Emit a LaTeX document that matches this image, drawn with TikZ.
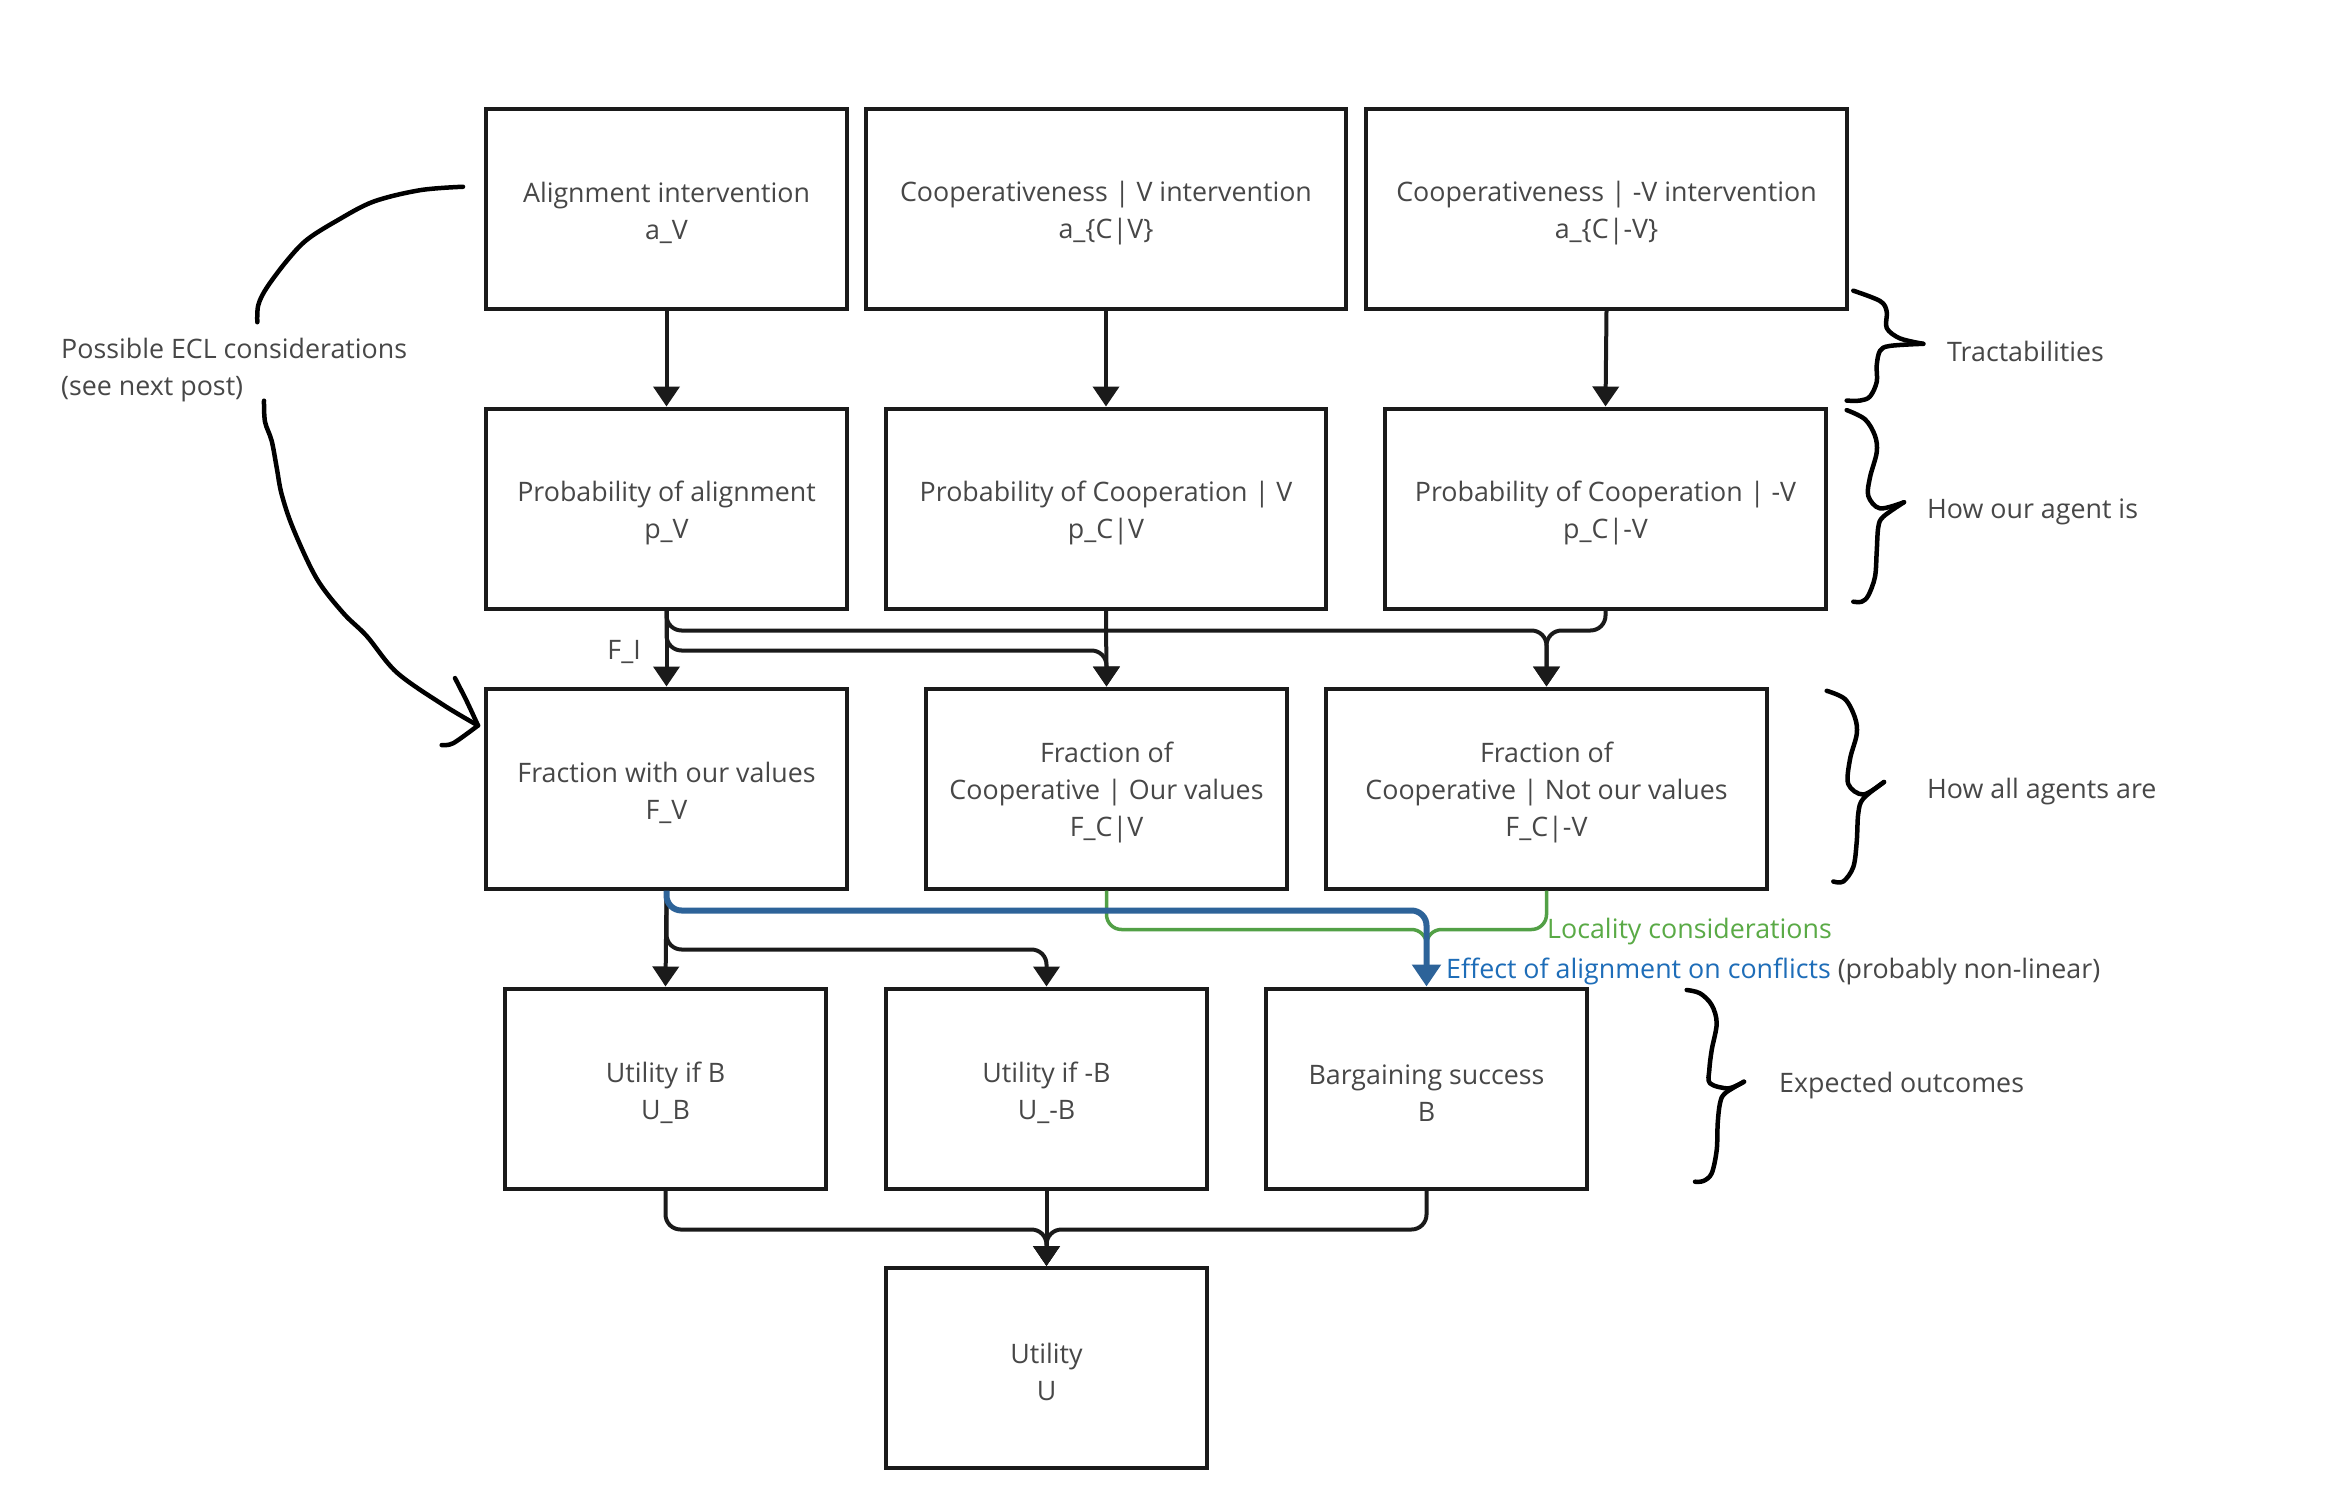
\documentclass[tikz,border=0pt]{standalone}
\usepackage{fontspec}
\setmainfont{Open Sans}
\usetikzlibrary{arrows.meta,calc}
\definecolor{txt}{HTML}{474747}
\definecolor{ln}{HTML}{1A1A1A}
\definecolor{bl}{HTML}{2D6399}
\definecolor{blt}{HTML}{1E6DB8}
\definecolor{gr}{HTML}{52A046}
\definecolor{grt}{HTML}{5AAA46}
\newcommand{\toppad}{\rule{0pt}{29pt}}
\begin{document}
\begin{tikzpicture}[x=1pt,y=-1pt,
  dbox/.style={draw=ln, line width=4pt, minimum width=#1, minimum height=200pt,
    inner sep=0pt, align=center, text=txt, font=\fontsize{26.8}{37}\selectfont},
  lbl/.style={inner sep=0pt, text=txt, font=\fontsize{26.8}{37}\selectfont},
  conn/.style={draw=ln, line width=4pt, rounded corners=15pt,
    -{Triangle[width=26pt,length=20pt]}},
  blueconn/.style={draw=bl, line width=6pt, rounded corners=15pt,
    -{Triangle[width=28pt,length=22pt]}},
  greenline/.style={draw=gr, line width=3.5pt, rounded corners=15pt},
  hand/.style={draw=black, line width=4.5pt, line cap=round, line join=round},
]
\fill[white] (0,0) rectangle (2330,1509);
\useasboundingbox (0,0) rectangle (2330,1509);

% boxes
\node[dbox=361pt] (A1) at (666.5,208.75) {\toppad Alignment intervention\\a\_V};
\node[dbox=480pt] (A2) at (1106,208.75) {\toppad Cooperativeness | V intervention\\a\_\{C|V\}};
\node[dbox=481pt] (A3) at (1606.5,208.75) {\toppad Cooperativeness | -V intervention\\a\_\{C|-V\}};

\node[dbox=361pt] (B1) at (666.5,508.5) {\toppad Probability of alignment\\p\_V};
\node[dbox=440pt] (B2) at (1106,508.5) {\toppad Probability of Cooperation | V\\p\_C|V};
\node[dbox=441pt] (B3) at (1605.5,508.5) {\toppad Probability of Cooperation | -V\\p\_C|-V};

\node[dbox=361pt] (C1) at (666.5,788.5) {\toppad Fraction with our values\\F\_V};
\node[dbox=361pt] (C2) at (1106.5,788.5) {\toppad Fraction of\\Cooperative | Our values\\F\_C|V};
\node[dbox=441pt] (C3) at (1546.5,788.5) {\toppad Fraction of\\Cooperative | Not our values\\F\_C|-V};

\node[dbox=321pt] (D1) at (665.5,1088.5) {\toppad Utility if B\\U\_B};
\node[dbox=321pt] (D2) at (1046.5,1088.5) {\toppad Utility if -B\\U\_-B};
\node[dbox=321pt] (D3) at (1426.5,1088.5) {\toppad Bargaining success\\B};

\node[dbox=321pt] (E) at (1046.5,1368) {\toppad Utility\\U};

% connectors row 1 -> row 2
\draw[conn] (A1.south) -- (B1.north);
\draw[conn] (A2.south) -- (B2.north);
\draw[conn] (A3.south) -- (B3.north);

% row 2 -> row 3
\draw[conn] (B1.south) -- (C1.north);
\draw[conn] (B1.south) -- ++(0,20) -| (C3.north);
\draw[conn] (B3.south) -- ++(0,20) -| (C3.north);
\draw[conn] (B1.south) -- ++(0,40) -| (C2.north);
\draw[conn] (B2.south) -- (C2.north);
\node[lbl, anchor=east] (fi) at (641,652) {F\_I};

% row 3 -> row 4
\draw[conn] (C1.south) -- (D1.north);
\draw[conn] (C1.south) -- ++(0,59) -| (D2.north);
\coordinate (gm) at ([yshift=45pt]D3.north);
\draw[greenline] (C2.south) -- ++(0,39) -| (gm);
\draw[greenline] (C3.south) -- ++(0,39) -| (gm);
\draw[blueconn] (C1.south) -- ++(0,20) -| (D3.north);
\node[lbl, anchor=west, text=grt] (loc) at (1547,932) {Locality considerations};
\node[lbl, anchor=west] (eff) at (1446,971) {\textcolor{blt}{Effect of alignment on conflicts} (probably non-linear)};

% row 4 -> row 5
\draw[conn] (D1.south) -- ++(0,39) -| (E.north);
\draw[conn] (D3.south) -- ++(0,39) -| (E.north);
\draw[conn] (D2.south) -- (E.north);

% ECL hand-drawn arrow
\node[lbl, anchor=west, align=left] (ecl) at (61,370) {Possible ECL considerations\\(see next post)};
\coordinate (eclfrom) at ([xshift=-21pt,yshift=22pt]A1.west);
\coordinate (ecltip) at ([xshift=-6pt,yshift=63pt]C1.west);
\draw[hand] plot[smooth, tension=0.55] coordinates {(eclfrom) (420,190.2) (373.3,201.7) (336.7,220.8) (306.7,239.9) (286.7,261) (266.7,287.8) (258.3,305) (257.3,322.2)};
\draw[hand] plot[smooth, tension=0.55] coordinates {(264,400.7) (265,421.7) (271.7,440.9) (276.7,467.6) (281.7,494.4) (293.3,528.9) (316.7,578.6) (343.3,613.1) (366.7,636) (396.7,672.4) (443.3,704.9) (ecltip)};
\draw[hand] plot[smooth, tension=0.5] coordinates {(455,678.1) (466.7,701.1) (ecltip)};
\draw[hand] plot[smooth, tension=0.5] coordinates {(441.7,745.1) (453.3,743.2) (ecltip)};

% braces
\draw[hand] plot[smooth, tension=0.55] coordinates {(1853.3,290.7) (1880,301) (1886.7,311.5) (1886.7,328) (1900,338.4) (1923.3,343.8)};
\draw[hand] plot[smooth, tension=0.55] coordinates {(1923.3,343.8) (1890,345.9) (1880,350.8) (1876.7,365.4) (1876.7,382) (1870,396.5) (1860,400.6) (1846.7,400.6)};
\node[lbl, anchor=west] (trac) at (1947,351) {Tractabilities};

\draw[hand] plot[smooth, tension=0.55] coordinates {(1846.7,410.1) (1865,419.3) (1875,435.8) (1876.7,452.4) (1870,477.3) (1868.3,496) (1880,508.4) (1904,502.2)};
\draw[hand] plot[smooth, tension=0.55] coordinates {(1904,502.2) (1883.3,516.7) (1878.3,527) (1876.7,551.9) (1875,576.8) (1868.3,595.5) (1861.7,601.7) (1853.3,601.7)};
\node[lbl, anchor=west] (agent) at (1927,512) {How our agent is};

\draw[hand] plot[smooth, tension=0.55] coordinates {(1826.7,690.8) (1845,699.1) (1855,717.8) (1856.7,734.3) (1850,759.2) (1848.3,784.1) (1863.3,794.5) (1884,782)};
\draw[hand] plot[smooth, tension=0.55] coordinates {(1884,782) (1863.3,798.6) (1858.3,813.1) (1856.7,842.1) (1853.3,867) (1843.3,881.5) (1833.3,881.5)};
\node[lbl, anchor=west] (all) at (1927,792) {How all agents are};

\draw[hand] plot[smooth, tension=0.55] coordinates {(1686.7,990) (1700,993.3) (1711.7,1005) (1716.7,1023.3) (1711.7,1050) (1709.3,1070) (1710,1083.3) (1728.3,1088.3) (1744,1081.7)};
\draw[hand] plot[smooth, tension=0.55] coordinates {(1744,1081.7) (1725,1093.3) (1720,1103.3) (1717.7,1123.3) (1716.7,1150) (1711.7,1173.3) (1703.3,1181) (1695,1181.7)};
\node[lbl, anchor=west] (exp) at (1779,1086) {Expected outcomes};
\end{tikzpicture}
\end{document}
